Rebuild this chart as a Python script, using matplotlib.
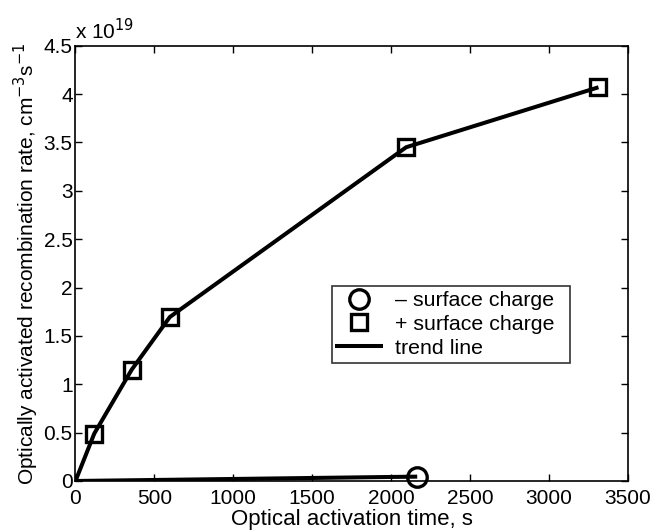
import numpy as np
import matplotlib.pyplot as plt
from matplotlib.ticker import FuncFormatter
from matplotlib.lines import Line2D

plt.rcParams['font.family'] = ['Liberation Sans', 'DejaVu Sans']

# + surface charge samples
pos_time = [0, 119, 356, 598, 2096, 3315]
pos_rate = [0.0, 0.49e19, 1.15e19, 1.695e19, 3.45e19, 4.07e19]
# - surface charge sample
neg_time = [0, 2166]
neg_rate = [0.0, 0.045e19]

scale = 1e19
fs = 15

fig = plt.figure(figsize=(6.53, 5.31), dpi=100)
ax = fig.add_axes([0.1156, 0.0942, 0.8456, 0.8198])

pt = np.asarray(pos_time)
pr = np.asarray(pos_rate) / scale
nt = np.asarray(neg_time)
nr = np.asarray(neg_rate) / scale

ax.plot(pt, pr, color="black", lw=2.9, solid_capstyle="butt")
ax.plot(nt, nr, color="black", lw=2.9, solid_capstyle="butt")
ax.plot(pt[1:], pr[1:], ls="none", marker="s", ms=12, mfc="none",
        mec="black", mew=2.4)
ax.plot(nt[1:], nr[1:], ls="none", marker="o", ms=14, mfc="none",
        mec="black", mew=2.4, clip_on=False)

ax.set_xlim(0, 3500)
ax.set_ylim(0, 4.5)
ax.set_xticks(np.arange(0, 3501, 500))
ax.set_yticks(np.arange(0, 4.51, 0.5))
ax.yaxis.set_major_formatter(FuncFormatter(lambda v, p: "%g" % v))
ax.tick_params(direction="in", top=True, right=True, length=5, width=1,
               labelsize=fs)
ax.tick_params(axis="x", pad=5.5)
ax.tick_params(axis="y", pad=2)
for s in ax.spines.values():
    s.set_linewidth(1.2)

ax.text(0.0, 1.005, r"x 10$^{19}$", transform=ax.transAxes, fontsize=fs,
        ha="left", va="bottom")

ax.set_xlabel("Optical activation time, s", fontsize=16, labelpad=1)
ax.set_ylabel(r"Optically activated recombination rate, cm$^{-3}$s$^{-1}$",
              fontsize=fs, labelpad=2)

handles = [
    Line2D([], [], ls="none", marker="o", ms=14, mfc="none", mec="black", mew=2.4),
    Line2D([], [], ls="none", marker="s", ms=12, mfc="none", mec="black", mew=2.4),
    Line2D([], [], color="black", lw=2.9),
]
labels = ["\u2013 surface charge", "+ surface charge", "trend line"]
leg = ax.legend(handles, labels, loc="upper left",
                bbox_to_anchor=(0.464, 0.2642, 0.4315, 0.1845), mode="expand",
                fontsize=15.4, frameon=True, fancybox=False, edgecolor="black",
                handlelength=2.04, handletextpad=0.65, labelspacing=0.23,
                borderpad=0.25, borderaxespad=0)
leg.get_frame().set_linewidth(1.2)

fig.savefig("out.png", dpi=100)
